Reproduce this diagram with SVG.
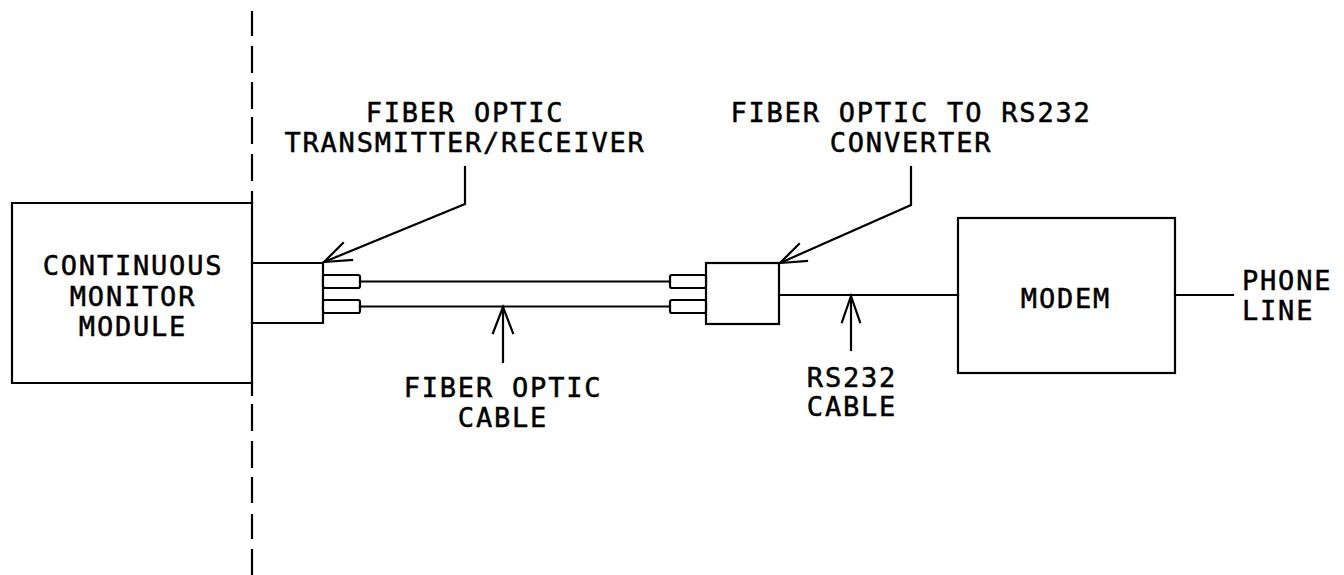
<svg xmlns="http://www.w3.org/2000/svg" width="1344" height="575" viewBox="0 0 1344 575">
<style>
.ln{fill:none;stroke:#000;stroke-width:2.2;stroke-linecap:square;stroke-linejoin:miter}
.bx{fill:#fff;stroke:#000;stroke-width:2.2}
.t{font-family:"DejaVu Sans Mono","Liberation Mono",monospace;font-size:27px;letter-spacing:1.8px;fill:#000;stroke:#000;stroke-width:0.5;text-anchor:middle}
.ts{font-family:"DejaVu Sans Mono","Liberation Mono",monospace;font-size:27px;letter-spacing:1.8px;fill:#000;stroke:#000;stroke-width:0.5;text-anchor:start}
</style>
<rect width="1344" height="575" fill="#fff"/>

<g id="boundary">
<path class="ln" stroke-linecap="butt" d="M252 12V35M252 47V72M252 83V108M252 118V143M252 155V180M252 192V395M252 405V430M252 442V467M252 478V502M252 515V538M252 550V575"/>
</g>

<g id="continuous-monitor-module">
<path class="ln" d="M252 203H12V383H252"/>
<text class="t" x="133" y="275">CONTINUOUS</text>
<text class="t" x="133" y="306">MONITOR</text>
<text class="t" x="133" y="336">MODULE</text>
</g>

<g id="transmitter-receiver">
<path class="ln" d="M252 263H323V323H252"/>
<rect class="bx" x="323" y="275" width="37" height="13" rx="2"/>
<rect class="bx" x="323" y="300" width="37" height="13" rx="2"/>
<text class="t" x="465" y="122">FIBER OPTIC</text>
<text class="t" x="465" y="152">TRANSMITTER/RECEIVER</text>
</g>

<g id="converter">
<rect class="bx" x="706" y="263" width="73" height="61"/>
<rect class="bx" x="670" y="275" width="36" height="13" rx="2"/>
<rect class="bx" x="670" y="300" width="36" height="13" rx="2"/>
<text class="t" x="911" y="122">FIBER OPTIC TO RS232</text>
<text class="t" x="911" y="152">CONVERTER</text>
</g>

<g id="modem">
<rect class="bx" x="958" y="218" width="217" height="155"/>
<text class="t" x="1066" y="308">MODEM</text>
</g>

<g id="phone-line">
<text class="ts" x="1242" y="290">PHONE</text>
<text class="ts" x="1242" y="320">LINE</text>
</g>

<g id="fiber-cable-label">
<text class="t" x="503" y="397">FIBER OPTIC</text>
<text class="t" x="503" y="427">CABLE</text>
</g>

<g id="rs232-cable-label">
<text class="t" x="852" y="387">RS232</text>
<text class="t" x="852" y="416">CABLE</text>
</g>

<g id="connectors">
<path class="ln" d="M360 281.5H670"/>
<path class="ln" d="M360 306.5H670"/>
<path class="ln" d="M779 295H958"/>
<path class="ln" d="M1175 295H1233"/>
<path class="ln" d="M465 167V204L324 262"/>
<path class="ln" d="M343 243L324 262L352 260"/>
<path class="ln" d="M911 167V205L780 263"/>
<path class="ln" d="M799 244L780 263L807 261"/>
<path class="ln" d="M503 307V362"/>
<path class="ln" d="M493 333L503 307L513 333"/>
<path class="ln" d="M851 296V350"/>
<path class="ln" d="M842 322L851 296L860 322"/>
</g>
</svg>
